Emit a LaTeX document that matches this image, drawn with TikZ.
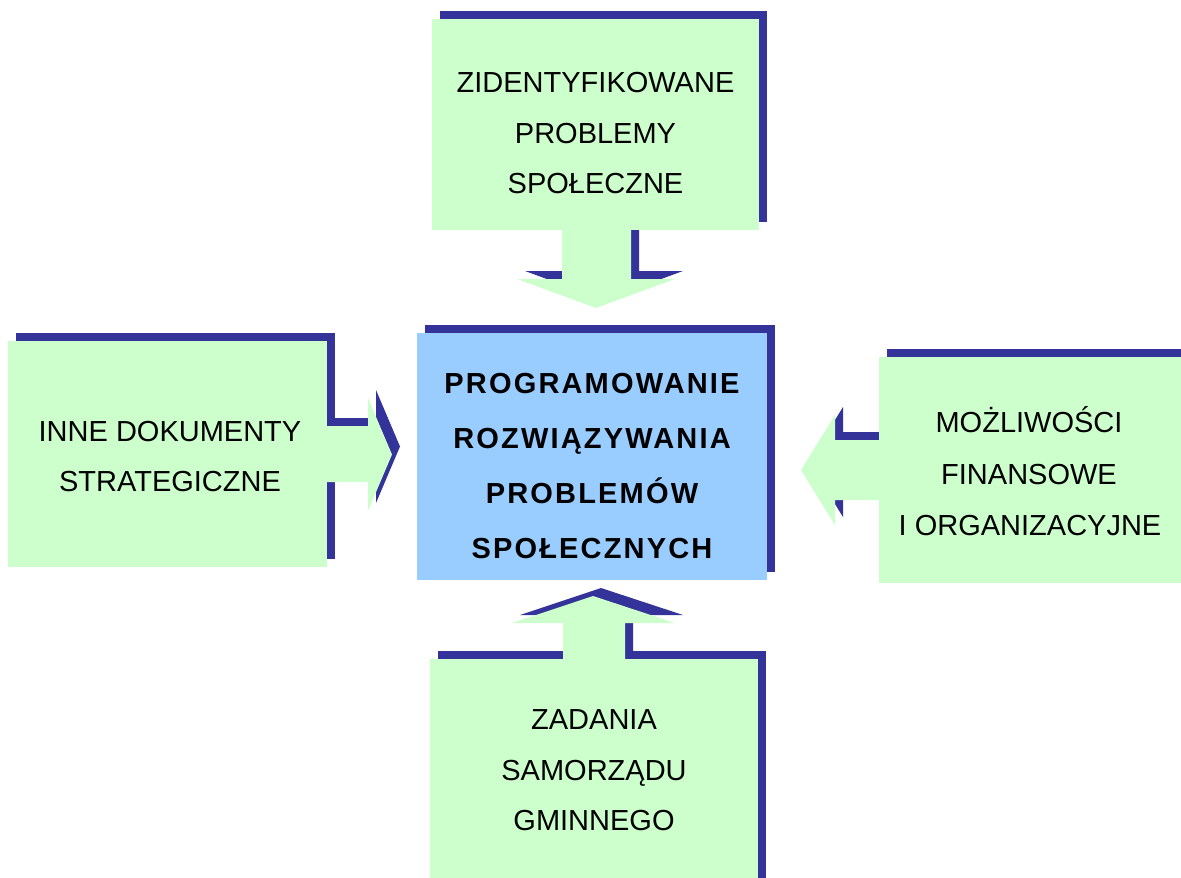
\documentclass[tikz,border=0pt]{standalone}
\usepackage{fontspec}
\setmainfont{Liberation Sans}
\newfontfamily\boldsp[LetterSpace=7.5]{Liberation Sans Bold}
\usetikzlibrary{backgrounds}
\definecolor{gfill}{HTML}{CCFFCC}
\definecolor{bfill}{HTML}{99CCFF}
\definecolor{shadowc}{HTML}{333399}
\tikzset{
  gbox/.style={fill=gfill, inner sep=0pt, outer sep=0pt, draw=none},
  bbox/.style={fill=bfill, inner sep=0pt, outer sep=0pt, draw=none},
  garrow/.style={fill=gfill},
  shad/.style={fill=shadowc, shift={(8,-8)}},
  txt/.style={anchor=base, inner sep=0pt, font=\fontsize{29}{35}\selectfont},
  btxt/.style={anchor=base, inner sep=0pt, font=\fontsize{29}{35}\boldsp},
}
\begin{document}
\begin{tikzpicture}[x=1pt,y=-1pt]
\useasboundingbox (0,0) rectangle (1181,878);
\clip (0,0) rectangle (1181,878);
% ---- shadows (behind everything)
\begin{scope}
\fill[shad] (432,19) rectangle (759,230);
\fill[shad] (562,229) -- (562,279) -- (517,279) -- (596,308) -- (675,279) -- (631,279) -- (631,229) -- cycle;
\fill[shad] (8,341) rectangle (327,567);
\fill[shad] (326,426) -- (368,426) -- (368,398) -- (392,454.5) -- (368,511) -- (368,482) -- (326,482) -- cycle;
\fill[shad] (879,357) rectangle (1195,583);
\fill[shad] (880,440) -- (835,440) -- (835,415) -- (801,470) -- (835,525) -- (835,500) -- (880,500) -- cycle;
\fill[shad] (417,333) rectangle (767,580);
\fill[shad] (430,659) rectangle (758,895);
\fill[shad] (563,660) -- (563,623) -- (512,623) -- (593,596) -- (675,623) -- (625,623) -- (625,660) -- cycle;
\end{scope}
% ---- boxes
\node[gbox, minimum width=327pt, minimum height=211pt] (top) at (595.5,124.5) {};
\node[gbox, minimum width=319pt, minimum height=226pt] (left) at (167.5,454) {};
\node[gbox, minimum width=316pt, minimum height=226pt] (right) at (1037,470) {};
\node[bbox, minimum width=350pt, minimum height=247pt] (center) at (592,456.5) {};
\node[gbox, minimum width=328pt, minimum height=236pt] (bottom) at (594,777) {};
% ---- arrows
\fill[garrow] (562,229) -- (562,279) -- (517,279) -- (596,308) -- (675,279) -- (631,279) -- (631,229) -- cycle;
\fill[garrow] (326,426) -- (368,426) -- (368,398) -- (392,454.5) -- (368,511) -- (368,482) -- (326,482) -- cycle;
\fill[garrow] (880,440) -- (835,440) -- (835,415) -- (801,470) -- (835,525) -- (835,500) -- (880,500) -- cycle;
\fill[garrow] (563,660) -- (563,623) -- (512,623) -- (593,596) -- (675,623) -- (625,623) -- (625,660) -- cycle;
% ---- texts
\node[txt] (t1) at (595.5,92.3) {ZIDENTYFIKOWANE};
\node[txt] (t2) at (595.5,143.3) {PROBLEMY};
\node[txt] (t3) at (595.5,193.3) {SPOŁECZNE};
\node[txt] (l1) at (170,441.7) {INNE DOKUMENTY};
\node[txt] (l2) at (170,491.7) {STRATEGICZNE};
\node[txt] (r1) at (1029,432.7) {MOŻLIWOŚCI};
\node[txt] (r2) at (1029,484) {FINANSOWE};
\node[txt] (r3) at (1030,535) {I ORGANIZACYJNE};
\node[txt] (b1) at (594,729) {ZADANIA};
\node[txt] (b2) at (594,780) {SAMORZĄDU};
\node[txt] (b3) at (594,830) {GMINNEGO};
\node[btxt] (c1) at (592,393) {PROGRAMOWANIE};
\node[btxt] (c2) at (592,448) {ROZWIĄZYWANIA};
\node[btxt] (c3) at (592,503) {PROBLEMÓW};
\node[btxt] (c4) at (592,558) {SPOŁECZNYCH};
\end{tikzpicture}
\end{document}
